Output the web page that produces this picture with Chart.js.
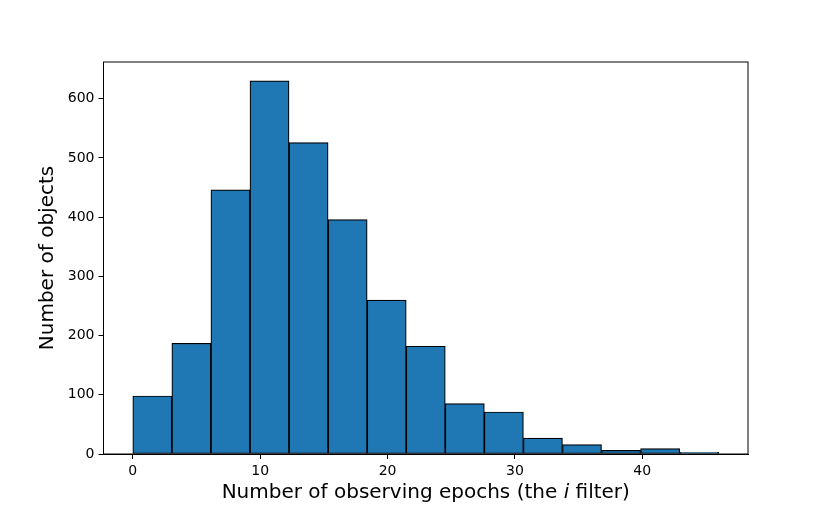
<!DOCTYPE html>
<html>
<head>
<meta charset="utf-8">
<script src="https://cdn.jsdelivr.net/npm/chart.js@4"></script>
<style>
  html, body { margin: 0; padding: 0; background: #fff; }
</style>
</head>
<body>
<canvas id="histChart" width="830" height="519"></canvas>
<script>
// histogram data, 15 bins between 0 and 46
const binEdges = [0, 3.0667, 6.1333, 9.2, 12.2667, 15.3333, 18.4, 21.4667, 24.5333,
                  27.6, 30.6667, 33.7333, 36.8, 39.8667, 42.9333, 46];
const counts = [98, 187, 446, 630, 526, 396, 260, 182, 85, 71, 27, 16, 6, 9, 3];
const xTicks = [0, 10, 20, 30, 40];
const yTicks = [0, 100, 200, 300, 400, 500, 600];
const xLabelParts = ['Number of observing epochs (the ', 'i', ' filter)'];
const yLabel = 'Number of objects';

const FONT = '"DejaVu Sans", Arial, sans-serif';

const points = counts.map((c, i) => ({ x: (binEdges[i] + binEdges[i + 1]) / 2, y: c }));

// box around the plot area, like matplotlib spines
const framePlugin = {
    id: 'frame',
    afterDraw(chart) {
        const { ctx, chartArea: a } = chart;
        ctx.save();
        ctx.strokeStyle = '#000';
        ctx.lineWidth = 1;
        ctx.strokeRect(a.left, a.top, a.right - a.left, a.bottom - a.top);
        ctx.restore();
    }
};

// axis titles (x title has an italic "i")
const titlesPlugin = {
    id: 'titles',
    afterDraw(chart) {
        const { ctx, chartArea: a } = chart;
        ctx.save();
        ctx.fillStyle = '#000';
        ctx.textBaseline = 'middle';

        const fonts = ['20px ' + FONT, 'italic 20px ' + FONT, '20px ' + FONT];
        let total = 0;
        const widths = xLabelParts.map((t, i) => {
            ctx.font = fonts[i];
            const w = ctx.measureText(t).width;
            total += w;
            return w;
        });
        let x = (a.left + a.right) / 2 - total / 2;
        ctx.textAlign = 'left';
        xLabelParts.forEach((t, i) => {
            ctx.font = fonts[i];
            ctx.fillText(t, x, 493);
            x += widths[i];
        });

        ctx.font = '20px ' + FONT;
        ctx.translate(48, (a.top + a.bottom) / 2);
        ctx.rotate(-Math.PI / 2);
        ctx.textAlign = 'center';
        ctx.fillText(yLabel, 0, 0);
        ctx.restore();
    }
};

const axisStyle = {
    offset: false,
    grid: { offset: false, drawOnChartArea: false, drawTicks: true, tickLength: 5, color: '#000', lineWidth: 1 },
    border: { display: true, color: '#000', width: 1 },
    ticks: { color: '#000', font: { family: FONT, size: 14 }, padding: 4 }
};

new Chart(document.getElementById('histChart'), {
    type: 'bar',
    data: {
        datasets: [{
            data: points,
            backgroundColor: '#1f77b4',
            borderColor: '#000',
            borderWidth: 1.2,
            borderSkipped: false,
            barPercentage: 1,
            categoryPercentage: 1,
            grouped: false
        }]
    },
    options: {
        responsive: false,
        animation: false,
        layout: { padding: { top: 62, right: 82, left: 0, bottom: 0 } },
        plugins: { legend: { display: false }, tooltip: { enabled: false } },
        scales: {
            x: {
                type: 'linear',
                min: -2.3,
                max: 48.3,
                ...axisStyle,
                afterBuildTicks: s => { s.ticks = xTicks.map(v => ({ value: v })); },
                afterFit: s => { s.height = 65; }
            },
            y: {
                type: 'linear',
                min: 0,
                max: 662,
                ...axisStyle,
                afterBuildTicks: s => { s.ticks = yTicks.map(v => ({ value: v })); },
                afterFit: s => { s.width = 103.5; }
            }
        }
    },
    plugins: [framePlugin, titlesPlugin]
});
</script>
</body>
</html>
